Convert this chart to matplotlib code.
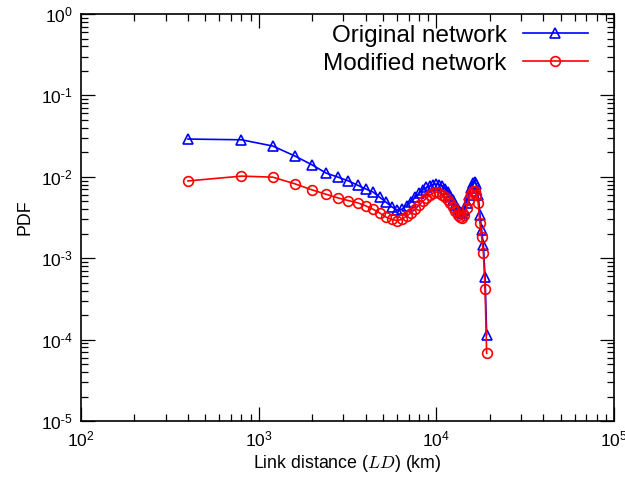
import numpy as np
import matplotlib
matplotlib.use("Agg")
import matplotlib.pyplot as plt  # noqa: E402
from matplotlib.ticker import LogLocator, FuncFormatter, NullFormatter  # noqa: E402

plt.rcParams["font.family"] = ["Liberation Sans", "DejaVu Sans"]
plt.rcParams["mathtext.fontset"] = "cm"

# link distance bins (km), 400 km wide
dist = [400 * k for k in range(1, 49)]

pdf_original = [
    0.0291, 0.0285, 0.0239, 0.0180, 0.0140, 0.0111, 0.0099, 0.0089, 0.0079, 0.0071,
    0.0065, 0.0056, 0.0049, 0.0043, 0.0039, 0.0040, 0.0044, 0.0049, 0.0056, 0.0063,
    0.0069, 0.0074, 0.0077, 0.0080, 0.0081, 0.0080, 0.0077, 0.0071, 0.0065, 0.0058,
    0.0052, 0.0045, 0.0040, 0.0037, 0.0036, 0.0039, 0.0048, 0.0060, 0.0073, 0.0084,
    0.0087, 0.0081, 0.0060, 0.0034, 0.0022, 0.00145, 0.00059, 0.000115,
]
pdf_modified = [
    0.0089, 0.0102, 0.0099, 0.0082, 0.0069, 0.0061, 0.0055, 0.0051, 0.0048, 0.0044,
    0.0040, 0.0036, 0.0032, 0.0030, 0.0029, 0.0030, 0.0033, 0.0036, 0.0040, 0.0045,
    0.0050, 0.0055, 0.0060, 0.0063, 0.0065, 0.0063, 0.0060, 0.0056, 0.0052, 0.0048,
    0.0043, 0.0038, 0.0034, 0.0032, 0.0031, 0.0034, 0.0041, 0.0052, 0.0061, 0.0067,
    0.0067, 0.0060, 0.0048, 0.0027, 0.0018, 0.00116, 0.00042, 0.000068,
]

fig = plt.figure(figsize=(6.25, 4.8), dpi=100)
ax = fig.add_axes([0.1296, 0.1229, 0.8528, 0.8479])

ax.plot(dist, pdf_original, color="#0000ff", lw=1.2, marker="^", ms=7,
        mfc="none", mec="#0000ff", mew=1.2, label="Original network")
ax.plot(dist, pdf_modified, color="#ff0000", lw=1.2, marker="o", ms=7,
        mfc="none", mec="#ff0000", mew=1.2, label="Modified network")

ax.set_xscale("log"); ax.set_yscale("log")
ax.set_xlim(1e2, 1e5); ax.set_ylim(1e-5, 1e0)


def pow10(v, pos):
    e = int(round(np.log10(v)))
    if e >= 0:
        return r"$\mathregular{10^{%d}}$" % e
    return r"$\mathregular{10^{\text{-}%d}}$" % -e


for axis in (ax.xaxis, ax.yaxis):
    axis.set_major_locator(LogLocator(base=10, numticks=10))
    axis.set_minor_locator(LogLocator(base=10, subs=np.arange(2, 10), numticks=20))
    axis.set_major_formatter(FuncFormatter(pow10))
    axis.set_minor_formatter(NullFormatter())

ax.tick_params(which="both", direction="in", top=True, right=True, width=0.9,
               labelsize=12.5, colors="black")
ax.tick_params(which="major", length=10, pad=6)
ax.tick_params(which="minor", length=5)
for s in ax.spines.values():
    s.set_linewidth(1.2)

ax.set_xlabel(r"Link distance ($LD$) (km)", fontsize=12.8, labelpad=3)
ax.set_ylabel("PDF", fontsize=12.8, labelpad=5)

ax.legend(loc="upper right", frameon=False, markerfirst=False, numpoints=1,
          fontsize=17.5, handlelength=2.7, handletextpad=0.65, labelspacing=0.25,
          borderaxespad=0.0, bbox_to_anchor=(0.97, 0.998))

fig.savefig("out.png", dpi=100)
